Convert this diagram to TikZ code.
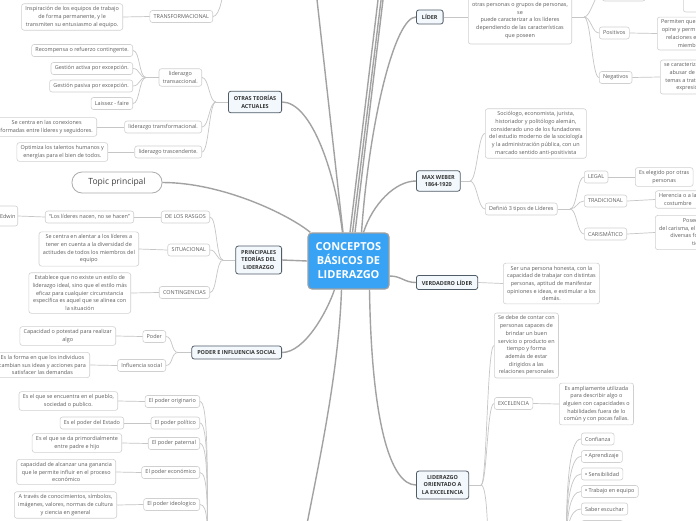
\documentclass[tikz,border=0pt]{standalone}
\usepackage{fontspec}
\setmainfont{Open Sans}
\usepackage{xcolor}
\usetikzlibrary{positioning}

\definecolor{centralblue}{HTML}{38A3F5}
\definecolor{mainfill}{HTML}{F3F8FC}
\definecolor{mainedge}{HTML}{505C68}
\definecolor{leafedge}{HTML}{D0D0D0}
\definecolor{leaftext}{HTML}{5C5C5C}
\definecolor{thickline}{HTML}{A2A2A2}
\definecolor{thinline}{HTML}{C6C6C6}

\newcommand\leaffont{\fontsize{5.45}{7.7}\selectfont}
\newcommand\topicfont{\fontsize{5.5}{7.4}\selectfont\bfseries}
\newcommand\centralfont{\fontsize{11}{14}\selectfont\bfseries}
\newcommand\bul{{\color{black!85}\textbullet}}

\tikzset{
  centralbox/.style={draw=gray!75, fill=centralblue, rounded corners=4, line width=1.2,
    text=white, font=\centralfont, align=center, minimum width=81, minimum height=56},
  topicbox/.style={draw=mainedge, fill=mainfill, rounded corners=2.5, line width=0.8,
    text=black!80, font=\topicfont, align=center, inner xsep=5.5, inner ysep=4.5},
  leafbox/.style={draw=leafedge, fill=white, rounded corners=2.5, line width=0.6,
    text=leaftext, font=\leaffont, align=center, inner xsep=3.8, inner ysep=2.8, minimum height=12},
  pillbox/.style={draw=gray!65, fill=white, rounded corners=10, line width=0.8,
    text=black!75, font=\fontsize{8.5}{10}\selectfont, minimum width=90, minimum height=21},
  mainlink/.style={draw=thickline, line width=1.4},
  sublink/.style={draw=thinline, line width=0.7},
}

\begin{document}
\begin{tikzpicture}[x=1pt,y=-1pt]
\useasboundingbox (0,0) rectangle (696,520);
\fill[white] (0,0) rectangle (696,520);

% centre
\node[centralbox] (centro) at (348.5,261) {CONCEPTOS\\BÁSICOS DE\\LIDERAZGO};
\node[pillbox] (topic) at (117,182.5) {Topic principal};

% main topics
\node[topicbox, anchor=east] (otras) at (282,102) {OTRAS TEORÍAS\\ACTUALES};
\node[topicbox, anchor=east] (princ) at (282,260) {PRINCIPALES\\TEORÍAS DEL\\LIDERAZGO};
\node[topicbox, anchor=east] (poderinf) at (282,352.5) {PODER E INFLUENCIA SOCIAL};
\node[topicbox, anchor=west] (lider) at (416,17) {LÍDER};
\node[topicbox, anchor=west] (weber) at (416,181) {MAX WEBER\\1864-1920};
\node[topicbox, anchor=west] (verdadero) at (416,282.5) {VERDADERO LÍDER};
\node[topicbox, anchor=west] (orient) at (416,485) {LIDERAZGO\\ORIENTADO A\\LA EXCELENCIA};

% otras teorias
\node[leafbox, anchor=east] (insp) at (123,17) {Inspiración de los equipos de trabajo\\de forma permanente, y le\\transmiten su entusiasmo al equipo.};
\node[leafbox, anchor=east] (transf) at (213,16.5) {TRANSFORMACIONAL};
\node[leafbox, anchor=east] (recomp) at (133,50.5) {Recompensa o refuerzo contingente.};
\node[leafbox, anchor=east] (gactiva) at (133,68.5) {Gestión activa por excepción.};
\node[leafbox, anchor=east] (gpasiva) at (133,86) {Gestión pasiva por excepción.};
\node[leafbox, anchor=east] (laissez) at (133,103.5) {Laissez - faire};
\node[leafbox, anchor=east] (transac) at (202,77.5) {liderazgo\\transaccional.};
\node[leafbox, anchor=east] (conex) at (97,127) {Se centra en las conexiones\\formadas entre líderes y seguidores.};
\node[leafbox, anchor=east] (ltransf) at (202,127) {liderazgo transformacional.};
\node[leafbox, anchor=east] (optim) at (108,152) {Optimiza los talentos humanos y\\energías para el bien de todos.};
\node[leafbox, anchor=east] (trasc) at (202,152) {liderazgo trascendente.};

% principales teorias
\node[leafbox, anchor=east, inner xsep=1.5, minimum width=20, minimum height=20] (edwin) at (18,216) {Edwin};
\node[leafbox, anchor=east] (rasgosq) at (134,217) {“Los líderes nacen, no se hacen”};
\node[leafbox, anchor=east] (rasgos) at (210,217) {DE LOS RASGOS};
\node[leafbox, anchor=east] (situtxt) at (139,249) {Se centra en alentar a los líderes a\\tener en cuenta a la diversidad de\\actitudes de todos los miembros del\\equipo};
\node[leafbox, anchor=east] (situ) at (210,250) {SITUACIONAL};
\node[leafbox, anchor=east] (contingtxt) at (131,293) {Establece que no existe un estilo de\\liderazgo ideal, sino que el estilo más\\eficaz para cualquier circunstancia\\específica es aquel que se alinea con\\la situación};
\node[leafbox, anchor=east] (conting) at (210,292.5) {CONTINGENCIAS};

% poder e influencia
\node[leafbox, anchor=east] (capac) at (116,336) {Capacidad o potestad para realizar\\algo};
\node[leafbox, anchor=east] (poder) at (166,336.5) {Poder};
\node[leafbox, anchor=east] (forma) at (90,365) {Es la forma en que los individuos\\cambian sus ideas y acciones para\\satisfacer las demandas};
\node[leafbox, anchor=east] (influ) at (166,365.5) {Influencia social};
\node[leafbox, anchor=east] (origtxt) at (118,401) {Es el que se encuentra en el pueblo,\\sociedad o publico.};
\node[leafbox, anchor=east] (orig) at (200,401.5) {El poder originario};
\node[leafbox, anchor=east] (polittxt) at (124,423) {Es el poder del Estado};
\node[leafbox, anchor=east] (polit) at (200,423) {El poder político};
\node[leafbox, anchor=east] (pattxt) at (122,443) {Es el que se da primordialmente\\entre padre e hijo};
\node[leafbox, anchor=east] (pat) at (200,443.5) {El poder paternal};
\node[leafbox, anchor=east] (econtxt) at (116,472) {capacidad de alcanzar una ganancia\\que le permite influir en el proceso\\económico};
\node[leafbox, anchor=east] (econ) at (200,472.5) {El poder económico};
\node[leafbox, anchor=east] (ideotxt) at (117,505) {A través de conocimientos, símbolos,\\imágenes, valores, normas de cultura\\y ciencia en general};
\node[leafbox, anchor=east] (ideo) at (200,504.5) {El poder ideologico};

% lider
\node[leafbox, anchor=west, minimum height=47] (lidertxt) at (468,20.5) {otras personas o grupos de personas,\\se\\puede caracterizar a los líderes\\dependiendo de las características\\que poseen};
\node[leafbox, anchor=west, minimum width=43, minimum height=18] (topa) at (602,-8) {};
\node[leafbox, anchor=west, minimum width=58, minimum height=26] (topb) at (683,-1) {};
\node[leafbox, anchor=west] (posit) at (599,33) {Positivos};
\node[leafbox, anchor=west] (negat) at (599,77.5) {Negativos};
\node[leafbox, anchor=west] (permiten) at (657,33.5) {Permiten que cada uno\\opine y permiten crear\\relaciones entre los\\miembros};
\node[leafbox, anchor=west] (negattxt) at (660,77) {se caracterizan por imponer\\abusar de su autoridad,\\temas a tratar sin consulta,\\expresión limitada};

% max weber
\node[leafbox, anchor=west] (webertxt) at (485,133.5) {Sociólogo, economista, jurista,\\historiador y politólogo alemán,\\considerado uno de los fundadores\\del estudio moderno de la sociología\\y la administración pública, con un\\marcado sentido anti-positivista};
\node[leafbox, anchor=west] (tipos) at (485,209) {Definió 3 tipos de Líderes};
\node[leafbox, anchor=west] (legal) at (584,177) {LEGAL};
\node[leafbox, anchor=west] (tradic) at (584,201) {TRADICIONAL};
\node[leafbox, anchor=west] (carism) at (584,234) {CARISMÁTICO};
\node[leafbox, anchor=west] (elegido) at (635,177) {Es elegido por otras\\personas};
\node[leafbox, anchor=west] (herencia) at (655,199.5) {Herencia o a la\\costumbre};
\node[leafbox, anchor=west] (posee) at (655,232.5) {Posee el poder\\del carisma, el cual se muestra de\\diversas formas según el\\tiempo.};

% verdadero lider
\node[leafbox, anchor=west] (verdadtxt) at (503,283.5) {Ser una persona honesta, con la\\capacidad de trabajar con distintas\\personas, aptitud de manifestar\\opiniones e ideas, e  estimular a los\\demás.};

% excelencia
\node[leafbox, anchor=west] (debetxt) at (494,345.5) {Se debe de contar con\\personas capaces de\\brindar un buen\\servicio o producto en\\tiempo y forma\\además de estar\\dirigidos a las\\relaciones personales};
\node[leafbox, anchor=west] (excel) at (494,403.5) {EXCELENCIA};
\node[leafbox, anchor=west] (amplia) at (559,404) {Es ampliamente utilizada\\para describir algo o\\alguien con capacidades o\\habilidades fuera de lo\\común y con pocas fallas.};
\node[leafbox, anchor=west] (confianza) at (581,439) {Confianza};
\node[leafbox, anchor=west] (aprend) at (581,456.5) {\bul{} Aprendizaje};
\node[leafbox, anchor=west] (sensib) at (581,474) {\bul{} Sensibilidad};
\node[leafbox, anchor=west] (trabajo) at (581,491.5) {\bul{} Trabajo en equipo};
\node[leafbox, anchor=west] (escuchar) at (581,509) {Saber escuchar};
\node[leafbox, anchor=west, minimum width=42, minimum height=13] (masabajo) at (581,527) {};

% off-page ends
\coordinate (upa) at (314.8,-20);
\coordinate (upb) at (380.4,-20);
\coordinate (upc) at (383.5,-20);
\coordinate (upd) at (385.4,-20);
\coordinate (abajo) at (300,560);
\coordinate (transfup) at (224,-20);
\coordinate (tipospoder) at (207.5,560);
\coordinate (excelsub) at (488,560);
\coordinate (habilidades) at (566,560);

% thick links from the centre
\draw[mainlink] (topic.east) .. controls +(60,0) and +(-22,-18) .. ([xshift=3]centro.north west);
\draw[mainlink] (otras.east) .. controls +(30,0) and +(-7,-58) .. ([xshift=-6]centro.north);
\draw[mainlink] ([xshift=-5.5]centro.north) -- (upa);
\draw[mainlink] ([xshift=1.5]centro.north) -- (upb);
\draw[mainlink] ([xshift=4]centro.north) -- (upc);
\draw[mainlink] ([xshift=6.5]centro.north) -- (upd);
\draw[mainlink] ([xshift=13]centro.north) .. controls +(8,-113) and +(-21,0) .. (lider.west);
\draw[mainlink] ([xshift=15]centro.north) .. controls +(9,-28) and +(-21,0) .. (weber.west);
\draw[mainlink] (centro.west) -- (princ.east);
\draw[mainlink] ([xshift=-14]centro.south) .. controls +(-7,21) and +(23,0) .. (poderinf.east);
\draw[mainlink] ([yshift=-15]centro.east) .. controls +(12,0) and +(-12,0) .. (verdadero.west);
\draw[mainlink] ([xshift=21]centro.south) .. controls +(2,131) and +(-26,0) .. (orient.west);
\draw[mainlink] ([xshift=-7]centro.south) .. controls +(-3,90) and +(15,-80) .. (abajo);

% left side branches
\draw[sublink] (otras.west) -- (216,102) coordinate (otrasb);
\foreach \c in {transac,ltransf,trasc}
  \draw[sublink] (otrasb) .. controls +(-7,0) and +(7,0) .. (\c.east);
\draw[sublink] (transac.west) -- (146,77.5) coordinate (transacb);
\foreach \c in {recomp,gactiva,gpasiva,laissez}
  \draw[sublink] (transacb) .. controls +(-7,0) and +(7,0) .. (\c.east);
\draw[sublink] (ltransf.west) -- (conex.east);
\draw[sublink] (trasc.west) -- (optim.east);
\draw[sublink] (transf.west) -- (insp.east);
\draw[sublink] (transf.east) .. controls +(7,0) and +(0,12) .. (transfup);

\draw[sublink] (princ.west) -- (223,260) coordinate (princb);
\foreach \c in {rasgos,situ,conting}
  \draw[sublink] (princb) .. controls +(-7,0) and +(7,0) .. (\c.east);
\draw[sublink] (rasgos.west) -- (rasgosq.east);
\draw[sublink] (rasgosq.west) -- (edwin.east);
\draw[sublink] (situ.west) -- (situtxt.east);
\draw[sublink] (conting.west) -- (contingtxt.east);

\draw[sublink] (poderinf.west) -- (178,352.5) coordinate (poderb);
\foreach \c in {poder,influ}
  \draw[sublink] (poderb) .. controls +(-7,0) and +(7,0) .. (\c.east);
\draw[sublink] (poder.west) -- (capac.east);
\draw[sublink] (influ.west) -- (forma.east);
\foreach \c/\t/\y in {orig/origtxt/401.5,polit/polittxt/423,pat/pattxt/443.5,econ/econtxt/472.5,ideo/ideotxt/504.5}{
  \draw[sublink] (\c.west) -- (\t.east);
  \draw[sublink] (\c.east) .. controls +(8,0) and +(0,{-0.6*(560-\y)}) .. (tipospoder);
}

% right side branches
\draw[sublink] (lider.east) -- ([yshift=3.5]lidertxt.west);
\draw[sublink] ([yshift=3.5]lidertxt.east) -- (584,17) coordinate (liderb);
\foreach \c in {topa,posit,negat}
  \draw[sublink] (liderb) .. controls +(7,0) and +(-7,0) .. (\c.west);
\draw[sublink] (posit.east) -- (permiten.west);
\draw[sublink] (negat.east) -- (negattxt.west);

\draw[sublink] (weber.east) -- (470,181) coordinate (weberb);
\foreach \c in {webertxt,tipos}
  \draw[sublink] (weberb) .. controls +(7,0) and +(-7,0) .. (\c.west);
\draw[sublink] (tipos.east) -- (570,209) coordinate (tiposb);
\foreach \c in {legal,tradic,carism}
  \draw[sublink] (tiposb) .. controls +(7,0) and +(-7,0) .. (\c.west);
\draw[sublink] (legal.east) -- (elegido.west);
\draw[sublink] (tradic.east) -- (herencia.west);
\draw[sublink] (carism.east) -- (posee.west);

\draw[sublink] (verdadero.east) -- (verdadtxt.west);

\draw[sublink] (orient.east) -- (481,485) coordinate (orientb);
\foreach \c in {debetxt,excel}
  \draw[sublink] (orientb) .. controls +(6,0) and +(-7,0) .. (\c.west);
\draw[sublink] (orientb) .. controls +(6,0) and +(0,-30) .. (excelsub);
\draw[sublink] (excel.east) -- (amplia.west);
\foreach \c/\y in {confianza/439,aprend/456.5,sensib/474,trabajo/491.5,escuchar/509,masabajo/527}
  \draw[sublink] (\c.west) .. controls +(-12,0) and +(0,{-0.6*(560-\y)}) .. (habilidades);
\end{tikzpicture}
\end{document}
